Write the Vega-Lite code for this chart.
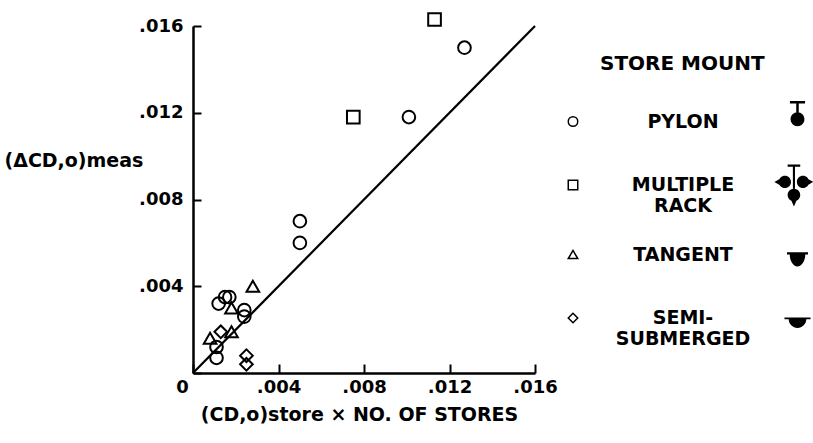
{
  "$schema": "https://vega.github.io/schema/vega-lite/v6.json",
  "width": 342,
  "height": 347,
  "autosize": {"type": "none"},
  "padding": {"left": 193, "top": 26, "right": 278, "bottom": 70},
  "background": "white",
  "config": {
    "view": {"stroke": null},
    "font": "DejaVu Sans",
    "axis": {
      "grid": false,
      "domainColor": "black",
      "domainWidth": 2.5,
      "tickColor": "black",
      "tickWidth": 2,
      "labelColor": "black",
      "labelFont": "DejaVu Sans",
      "labelFontWeight": "bold",
      "labelFontSize": 18,
      "labelFlush": false,
      "labelOverlap": false,
      "titleColor": "black",
      "titleFont": "DejaVu Sans",
      "titleFontWeight": "bold"
    }
  },
  "layer": [
    {
      "data": {"values": [{"x": 0, "y": 0}, {"x": 0.016, "y": 0.016}]},
      "mark": {"type": "line", "color": "black", "strokeWidth": 2.2},
      "encoding": {
        "x": {"field": "x", "type": "quantitative", "scale": {"domain": [0, 0.016], "nice": false},
          "axis": {
            "values": [0, 0.004, 0.008, 0.012, 0.016],
            "tickSize": -9,
            "labelPadding": 14,
            "labelExpr": "datum.value == 0 ? '0' : substring(format(datum.value, '.3f'), 1)",
            "labelOffset": {"condition": {"test": "datum.value == 0", "value": -11}, "value": 0},
            "title": "(CD,o)store × NO. OF STORES",
            "titleFontSize": 19,
            "titleX": 166,
            "titleY": 32,
            "titleAlign": "center",
            "titleBaseline": "top"
          }
        },
        "y": {"field": "y", "type": "quantitative", "scale": {"domain": [0, 0.016], "nice": false},
          "axis": {
            "values": [0, 0.004, 0.008, 0.012, 0.016],
            "tickSize": -8,
            "labelPadding": 18,
            "labelExpr": "datum.value == 0 ? '' : substring(format(datum.value, '.3f'), 1)",
            "title": "(ΔCD,o)meas",
            "titleFontSize": 19,
            "titleAngle": 0,
            "titleAlign": "left",
            "titleBaseline": "middle",
            "titleX": -189,
            "titleY": 134
          }
        }
      }
    },
    {
      "data": {"name": "pts", "values": [
        {"x": 0.0127, "y": 0.0150, "mount": "PYLON"},
        {"x": 0.0101, "y": 0.0118, "mount": "PYLON"},
        {"x": 0.0050, "y": 0.0070, "mount": "PYLON"},
        {"x": 0.0050, "y": 0.0060, "mount": "PYLON"},
        {"x": 0.0012, "y": 0.0032, "mount": "PYLON"},
        {"x": 0.0015, "y": 0.0035, "mount": "PYLON"},
        {"x": 0.0017, "y": 0.0035, "mount": "PYLON"},
        {"x": 0.0024, "y": 0.0029, "mount": "PYLON"},
        {"x": 0.0024, "y": 0.0026, "mount": "PYLON"},
        {"x": 0.0011, "y": 0.0012, "mount": "PYLON"},
        {"x": 0.0011, "y": 0.0007, "mount": "PYLON"},
        {"x": 0.0113, "y": 0.0163, "mount": "MULTIPLE RACK"},
        {"x": 0.0075, "y": 0.0118, "mount": "MULTIPLE RACK"},
        {"x": 0.0028, "y": 0.0040, "mount": "TANGENT"},
        {"x": 0.0018, "y": 0.0030, "mount": "TANGENT"},
        {"x": 0.0018, "y": 0.0019, "mount": "TANGENT"},
        {"x": 0.0008, "y": 0.0016, "mount": "TANGENT"},
        {"x": 0.0013, "y": 0.0019, "mount": "SEMI-SUBMERGED"},
        {"x": 0.0025, "y": 0.0008, "mount": "SEMI-SUBMERGED"},
        {"x": 0.0025, "y": 0.0004, "mount": "SEMI-SUBMERGED"}
      ]},
      "layer": [
        {
          "mark": {"type": "point", "filled": false, "color": "black", "strokeWidth": 2, "size": 160, "opacity": 1},
          "encoding": {
            "x": {"field": "x", "type": "quantitative"},
            "y": {"field": "y", "type": "quantitative"},
            "shape": {
              "field": "mount", "type": "nominal",
              "scale": {"domain": ["PYLON", "MULTIPLE RACK", "TANGENT", "SEMI-SUBMERGED"], "range": ["circle", "square", "triangle-up", "diamond"]},
              "legend": {
                "orient": "none",
                "legendX": 370.5,
                "legendY": 70.5,
                "title": null,
                "padding": 0,
                "labelFont": "DejaVu Sans",
                "labelFontSize": 19,
                "labelFontWeight": "bold",
                "labelColor": "black",
                "labelAlign": "center",
                "labelOffset": 100.5,
                "labelLimit": 300,
                "labelExpr": "datum.label == 'MULTIPLE RACK' ? ['MULTIPLE', 'RACK'] : datum.label == 'SEMI-SUBMERGED' ? ['SEMI-', 'SUBMERGED'] : datum.label",
                "symbolSize": 90,
                "symbolStrokeWidth": 1.5,
                "symbolStrokeColor": "black",
                "clipHeight": 50,
                "rowPadding": 13.5
              }
            }
          }
        },
        {
          "mark": {"type": "point", "filled": true, "color": "black", "opacity": 0},
          "encoding": {
            "x": {"field": "x", "type": "quantitative"},
            "y": {"field": "y", "type": "quantitative"},
            "shape": {
              "field": "mount", "type": "nominal",
              "scale": {"domain": ["PYLON", "MULTIPLE RACK", "TANGENT", "SEMI-SUBMERGED"], "range": [
                "M0,-1.19L0,-1.19M0,1.19L0,1.19 M-0.36,-1H0.36V-0.88H0.06V-0.4H-0.06V-0.88H-0.36Z M0,-0.46A0.33,0.33 0 1,1 0,0.2A0.33,0.33 0 1,1 0,-0.46Z",
                "M0,-1.19L0,-1.19M0,1.19L0,1.19 M-0.47,-1.15H0.13V-1.04H-0.47Z M-0.22,-1.04H-0.12V0H-0.22Z M-0.6,-0.61A0.29,0.29 0 1,1 -0.6,-0.03A0.29,0.29 0 1,1 -0.6,-0.61Z M-0.85,-0.46L-0.85,-0.18L-1.1,-0.32Z M0.26,-0.61A0.29,0.29 0 1,1 0.26,-0.03A0.29,0.29 0 1,1 0.26,-0.61Z M0.5,-0.46L0.75,-0.32L0.5,-0.18Z M-0.17,0A0.3,0.3 0 1,1 -0.17,0.6A0.3,0.3 0 1,1 -0.17,0Z M-0.32,0.5L-0.02,0.5L-0.17,0.85Z",
                "M0,-1.19L0,-1.19M0,1.19L0,1.19 M-0.5,-0.15H0.5V-0.04H-0.5Z M-0.37,-0.05H0.37A0.37,0.58 0 0,1 -0.37,-0.05Z",
                "M0,-1.19L0,-1.19M0,1.19L0,1.19 M-0.62,-0.22H0.62V-0.13H-0.62Z M-0.42,-0.14H0.42A0.42,0.42 0 0,1 -0.42,-0.14Z"
              ]},
              "legend": {
                "orient": "none",
                "legendX": 407,
                "legendY": 28,
                "padding": 0,
                "title": "STORE MOUNT",
                "titleFont": "DejaVu Sans",
                "titleFontSize": 20,
                "titleFontWeight": "bold",
                "titleColor": "black",
                "titleAnchor": "start",
                "titlePadding": 27,
                "labelExpr": "''",
                "labelFontSize": 1,
                "labelOffset": 0,
                "symbolSize": 1764,
                "symbolOffset": 176.5,
                "symbolStrokeWidth": 0,
                "symbolFillColor": "black",
                "symbolStrokeColor": "black",
                "symbolOpacity": 1,
                "rowPadding": 16.67
              }
            }
          }
        }
      ],
      "resolve": {"scale": {"shape": "independent"}, "legend": {"shape": "independent"}}
    }
  ]
}
